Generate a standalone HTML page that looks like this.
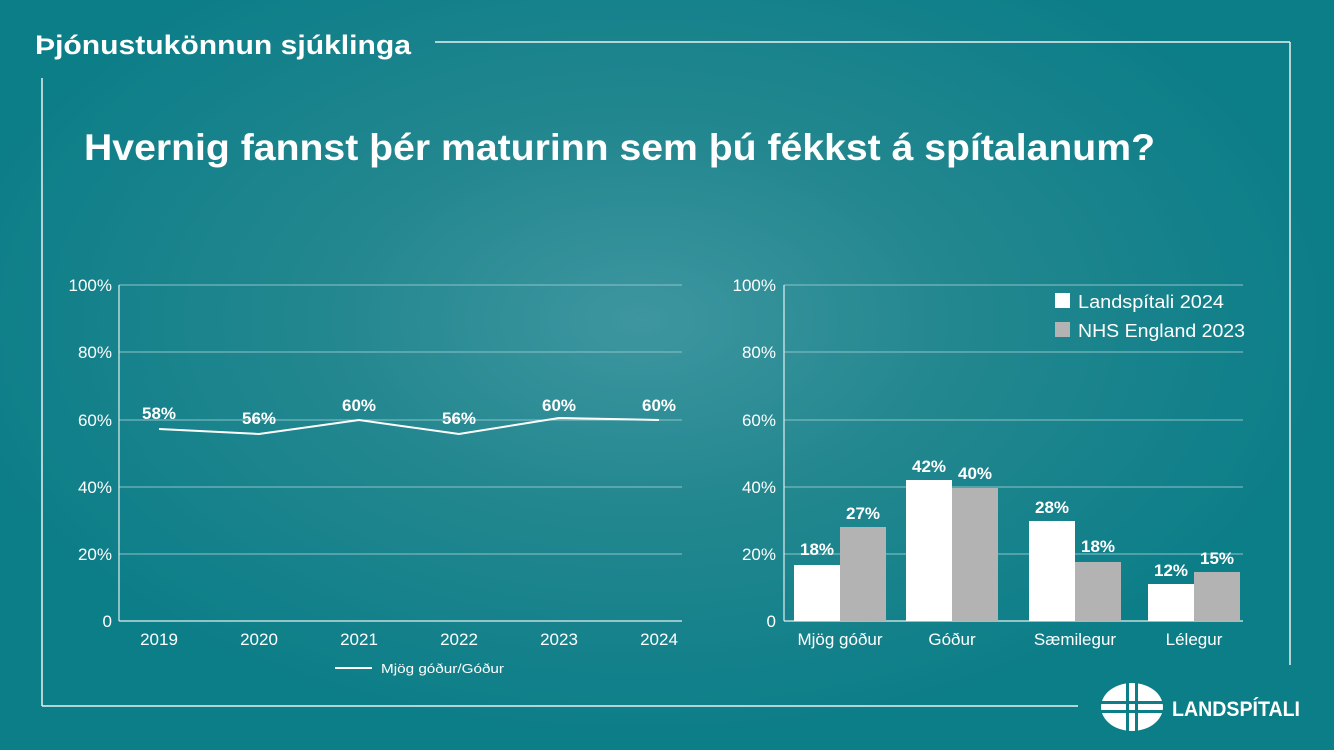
<!DOCTYPE html>
<html><head><meta charset="utf-8"><style>
body{margin:0;width:1334px;height:750px;overflow:hidden;font-family:"Liberation Sans",sans-serif;}
.bg{position:absolute;left:0;top:0;width:1334px;height:750px;background:radial-gradient(ellipse 700px 420px at 640px 320px,#3d96a0 0%,#23878f 45%,#0c7e88 100%);}
svg{position:absolute;left:0;top:0}
</style></head><body><div class="bg"></div>
<svg width="1334" height="750" font-family="Liberation Sans, sans-serif" fill="#fff">
<g stroke="#e8f0f0" stroke-width="1.5" fill="none">
<line x1="435" y1="42" x2="1290" y2="42"/><line x1="1290" y1="42" x2="1290" y2="665"/>
<line x1="42" y1="78" x2="42" y2="706"/><line x1="42" y1="706" x2="1078" y2="706"/>
</g>
<text x="35" y="54" font-size="27" font-weight="bold" textLength="376" lengthAdjust="spacingAndGlyphs">Þjónustukönnun sjúklinga</text>
<text x="84" y="160" font-size="37" font-weight="bold" textLength="1071" lengthAdjust="spacingAndGlyphs">Hvernig fannst þér maturinn sem þú fékkst á spítalanum?</text>
<g stroke="#8cc3c8" stroke-width="1">
<line x1="119" y1="285" x2="682" y2="285"/><line x1="119" y1="352" x2="682" y2="352"/><line x1="119" y1="420" x2="682" y2="420"/><line x1="119" y1="487" x2="682" y2="487"/><line x1="119" y1="554" x2="682" y2="554"/>
<line x1="784" y1="285" x2="1243" y2="285"/><line x1="784" y1="352" x2="1243" y2="352"/><line x1="784" y1="420" x2="1243" y2="420"/><line x1="784" y1="487" x2="1243" y2="487"/><line x1="784" y1="554" x2="1243" y2="554"/>
</g>
<g stroke="#e0eeee" stroke-width="1.2"><line x1="119" y1="285" x2="119" y2="621"/><line x1="119" y1="621" x2="682" y2="621"/><line x1="784" y1="285" x2="784" y2="621"/><line x1="784" y1="621" x2="1243" y2="621"/></g>
<g font-size="17" text-anchor="end">
<text x="112" y="291">100%</text><text x="112" y="358">80%</text><text x="112" y="426">60%</text><text x="112" y="493">40%</text><text x="112" y="560">20%</text><text x="112" y="627">0</text>
<text x="776" y="291">100%</text><text x="776" y="358">80%</text><text x="776" y="426">60%</text><text x="776" y="493">40%</text><text x="776" y="560">20%</text><text x="776" y="627">0</text>
</g>
<g font-size="17" text-anchor="middle">
<text x="159" y="645">2019</text><text x="259" y="645">2020</text><text x="359" y="645">2021</text><text x="459" y="645">2022</text><text x="559" y="645">2023</text><text x="659" y="645">2024</text>
<text x="840" y="645">Mjög góður</text><text x="952" y="645">Góður</text><text x="1075" y="645">Sæmilegur</text><text x="1194" y="645">Lélegur</text>
</g>
<polyline points="159,429 259,434 359,420 459,434 559,418 659,420" fill="none" stroke="#fff" stroke-width="2"/>
<g font-size="17" font-weight="bold" text-anchor="middle">
<text x="159" y="419">58%</text><text x="259" y="424">56%</text><text x="359" y="411">60%</text><text x="459" y="424">56%</text><text x="559" y="411">60%</text><text x="659" y="411">60%</text>
</g>
<line x1="335" y1="668" x2="372" y2="668" stroke="#fff" stroke-width="2"/>
<text x="381" y="673" font-size="13" textLength="123" lengthAdjust="spacingAndGlyphs">Mjög góður/Góður</text>
<g fill="#fff"><rect x="794" y="565" width="46" height="56"/><rect x="906" y="480" width="46" height="141"/><rect x="1029" y="521" width="46" height="100"/><rect x="1148" y="584" width="46" height="37"/></g>
<g fill="#b3b3b3"><rect x="840" y="527" width="46" height="94"/><rect x="952" y="488" width="46" height="133"/><rect x="1075" y="562" width="46" height="59"/><rect x="1194" y="572" width="46" height="49"/></g>
<g font-size="17" font-weight="bold" text-anchor="middle">
<text x="817" y="555">18%</text><text x="863" y="519">27%</text><text x="929" y="472">42%</text><text x="975" y="479">40%</text><text x="1052" y="513">28%</text><text x="1098" y="552">18%</text><text x="1171" y="576">12%</text><text x="1217" y="564">15%</text>
</g>
<rect x="1055" y="293" width="15" height="15" fill="#fff"/><text x="1078" y="308" font-size="18" textLength="146" lengthAdjust="spacingAndGlyphs">Landspítali 2024</text>
<rect x="1055" y="322" width="15" height="15" fill="#b3b3b3"/><text x="1078" y="337" font-size="18" textLength="167" lengthAdjust="spacingAndGlyphs">NHS England 2023</text>
<g transform="translate(1132,707)">
<ellipse cx="0" cy="0" rx="31" ry="24" fill="#fff"/>
<g fill="#0c7e88"><rect x="-6" y="-26" width="3" height="52"/><rect x="3" y="-26" width="3" height="52"/><rect x="-33" y="-6" width="66" height="3"/><rect x="-33" y="3" width="66" height="3"/></g>
</g>
<text x="1172" y="716" font-size="21" font-weight="bold" textLength="128" lengthAdjust="spacingAndGlyphs">LANDSPÍTALI</text>
</svg></body></html>
